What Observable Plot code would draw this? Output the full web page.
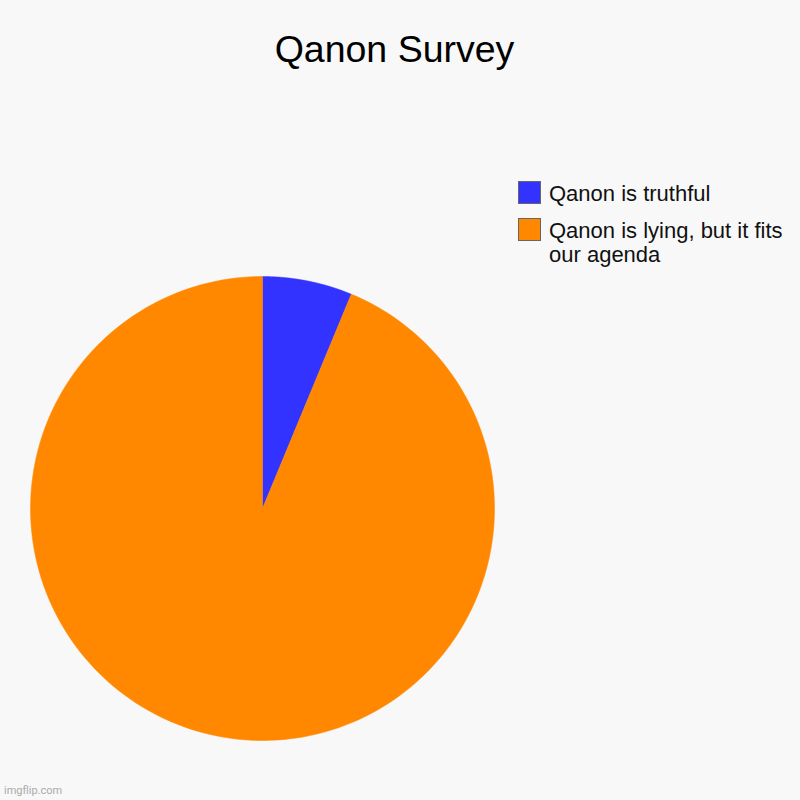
<!DOCTYPE html>
<html>
<head>
<meta charset="utf-8">
<script src="https://cdn.jsdelivr.net/npm/d3@7"></script>
<script src="https://cdn.jsdelivr.net/npm/@observablehq/plot@0.6"></script>
<style>
  html, body { margin: 0; padding: 0; background: #f8f8f8; }
  #wrap { position: relative; width: 800px; height: 800px; overflow: hidden; font-family: "Liberation Sans", Arial, sans-serif; }
  #wrap svg { position: absolute; left: 0; top: 0; background: transparent; }
  .title { position: absolute; left: 0; width: 789px; top: 29.6px; text-align: center; font-size: 37.5px; line-height: 38px; color: #000; }
  .sw { position: absolute; left: 0; width: 21px; height: 21px; border: 1.5px solid #666; }
  .lt { position: absolute; left: 31px; width: 250px; font-size: 22px; line-height: 24px; color: #111; white-space: normal; }
  .wm { position: absolute; left: 4px; top: 784px; font-size: 11px; color: #aaa; font-family: Roboto, "Liberation Sans", sans-serif; }
</style>
</head>
<body>
<div id="wrap"></div>
<script>
const title = "Qanon Survey";
const labels = ["Qanon is truthful", "Qanon is lying, but it fits our agenda"];
const values = [1, 15];
const colors = ["#3333ff", "#ff8800"];

const arcs = d3.pie().sort(null)(values);
const pts = [];
arcs.forEach((a, i) => {
  const name = labels[i];
  pts.push({name, x: 0, y: 0});
  const n = 200;
  for (let k = 0; k <= n; k++) {
    const t = a.startAngle + (a.endAngle - a.startAngle) * k / n;
    pts.push({name, x: Math.sin(t), y: Math.cos(t)});
  }
  pts.push({name, x: 0, y: 0});
});

const chart = Plot.plot({
  width: 800,
  height: 800,
  margin: 0,
  x: {domain: [-1, 1], range: [30, 494], axis: null},
  y: {domain: [-1, 1], range: [740, 276], axis: null},
  color: {domain: labels, range: colors},
  style: {background: "transparent"},
  marks: [
    Plot.line(pts, {x: "x", y: "y", z: "name", fill: "name", stroke: "name", strokeWidth: 0.5, curve: "linear"})
  ]
});

const wrap = document.getElementById("wrap");
wrap.appendChild(chart);

const t = document.createElement("div");
t.className = "title";
t.textContent = title;
wrap.appendChild(t);

const legTops = [181, 217.7];
const textTops = [182, 218.5];
labels.forEach((l, i) => {
  const sw = document.createElement("div");
  sw.className = "sw";
  sw.style.left = "518px";
  sw.style.top = legTops[i] + "px";
  sw.style.background = colors[i];
  wrap.appendChild(sw);
  const tx = document.createElement("div");
  tx.className = "lt";
  tx.style.left = "549px";
  tx.style.top = textTops[i] + "px";
  tx.textContent = l;
  wrap.appendChild(tx);
});

const wm = document.createElement("div");
wm.className = "wm";
wm.textContent = "imgflip.com";
wrap.appendChild(wm);
</script>
</body>
</html>
